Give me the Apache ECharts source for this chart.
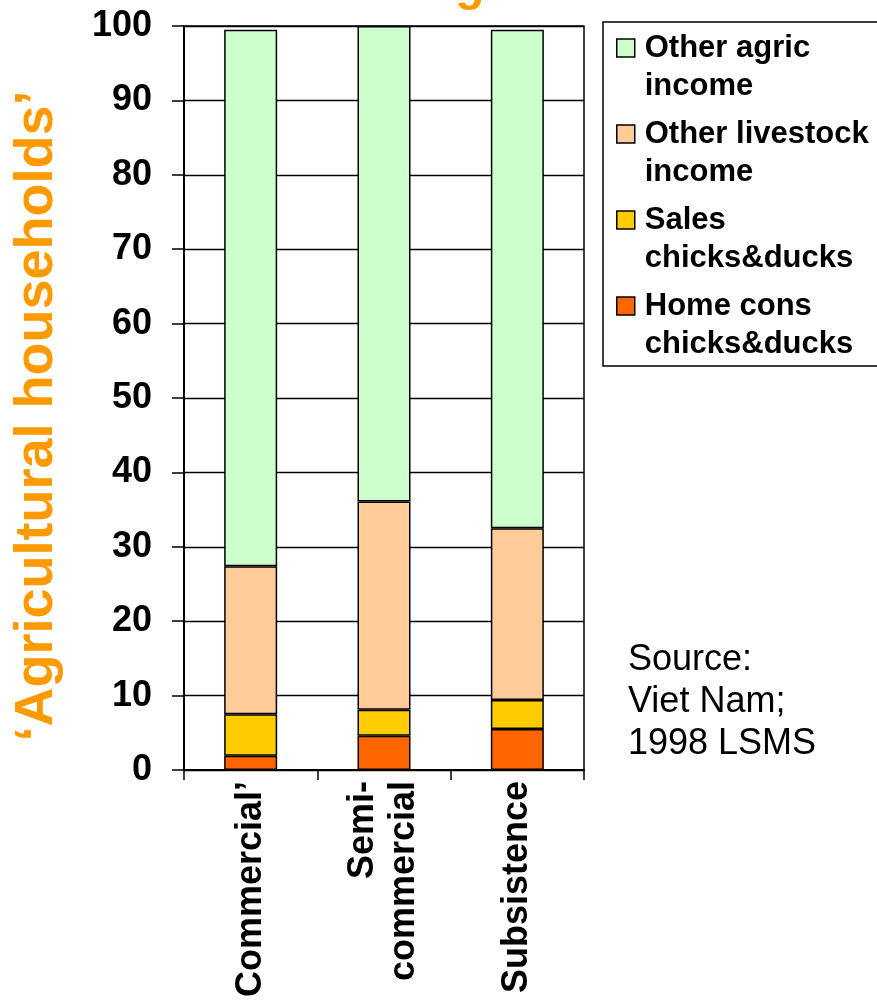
<!DOCTYPE html>
<html>
<head>
<meta charset="utf-8">
<script src="https://cdn.jsdelivr.net/npm/echarts@6/dist/echarts.min.js"></script>
<style>
  html, body { margin: 0; padding: 0; background: #fff; }
  #chart { width: 877px; height: 1003px; }
</style>
</head>
<body>
<div id="chart"></div>
<script>
// Household groups along the x axis
const categories = ['Commercial\u2019', 'Semi-\ncommercial', 'Subsistence'];

// Income shares (%) per group, stacked from the bottom up
const homeCons = [1.9, 4.6, 5.5];
const salesChicks = [5.6, 3.5, 3.9];
const otherLivestock = [19.9, 28.0, 23.1];
const otherAgric = [72.1, 63.9, 67.0];

// Series names as shown in the legend
const seriesNames = [
  'Home cons\nchicks&ducks',
  'Sales\nchicks&ducks',
  'Other livestock\nincome',
  'Other agric\nincome'
];
const seriesColors = ['#FF6600', '#FFCC00', '#FFCC99', '#CCFFCC'];
const seriesValues = [homeCons, salesChicks, otherLivestock, otherAgric];

const FONT = '"Liberation Sans", Arial, sans-serif';
const ORANGE = '#FF9900';

const chart = echarts.init(document.getElementById('chart'), null, { renderer: 'canvas' });

// Legend marker: square sitting at the top of a tall box so it lines up with the first text line
const legendIcon = 'path://M0,0h18v18h-18z M0,56';

chart.setOption({
  backgroundColor: '#fff',
  animation: false,
  textStyle: { fontFamily: FONT },
  grid: {
    left: 184, right: 293, top: 26, bottom: 233,
    show: true, borderColor: '#000', borderWidth: 1.5, backgroundColor: '#fff'
  },
  xAxis: {
    type: 'category',
    data: categories,
    axisLine: { lineStyle: { color: '#000', width: 2 } },
    axisTick: { show: true, length: 10, lineStyle: { color: '#000', width: 1.5 } },
    axisLabel: {
      rotate: 90, margin: 11, color: '#000', fontSize: 36, fontWeight: 'bold',
      fontFamily: FONT, lineHeight: 41
    }
  },
  yAxis: {
    type: 'value',
    min: 0, max: 100, interval: 10,
    name: '\u2018Agricultural households\u2019',
    nameLocation: 'middle',
    nameRotate: 90,
    nameGap: 120,
    nameTextStyle: {
      color: ORANGE, fontSize: 54, fontWeight: 'bold', fontFamily: FONT,
      padding: [0, 36, 0, 0]
    },
    axisLine: { show: true, lineStyle: { color: '#000', width: 2 } },
    axisTick: { show: true, length: 12, lineStyle: { color: '#000', width: 1.5 } },
    axisLabel: { margin: 32, color: '#000', fontSize: 36, fontWeight: 'bold', fontFamily: FONT },
    splitLine: { show: true, lineStyle: { color: '#000', width: 1.4 } }
  },
  legend: {
    orient: 'vertical',
    left: 603, top: 22,
    padding: [7, 10, 3, 13],
    itemGap: 10,
    itemWidth: 18,
    itemHeight: 56,
    icon: legendIcon,
    selectedMode: false,
    borderColor: '#000', borderWidth: 1.5, borderRadius: 0,
    backgroundColor: '#fff',
    itemStyle: { borderColor: '#000', borderWidth: 1.5 },
    data: seriesNames.slice().reverse(),
    textStyle: {
      color: '#000', fontSize: 31, fontWeight: 'bold', fontFamily: FONT,
      lineHeight: 38, padding: [0, 0, 0, 5]
    }
  },
  series: seriesNames.map((name, i) => ({
    name: name,
    type: 'bar',
    stack: 'total',
    barWidth: 53,
    data: seriesValues[i],
    itemStyle: { color: seriesColors[i], borderColor: '#000', borderWidth: 1.5 }
  })),
  graphic: [
    {
      type: 'text',
      left: 223, top: -37,
      silent: true,
      style: {
        text: 'Share of agricultural income',
        fill: ORANGE, font: 'bold 48px ' + FONT
      }
    },
    {
      type: 'text',
      left: 628, top: 639,
      silent: true,
      style: {
        text: 'Source:\nViet Nam;\n1998 LSMS',
        fill: '#000', font: '36px ' + FONT, lineHeight: 42
      }
    }
  ]
});
</script>
</body>
</html>
